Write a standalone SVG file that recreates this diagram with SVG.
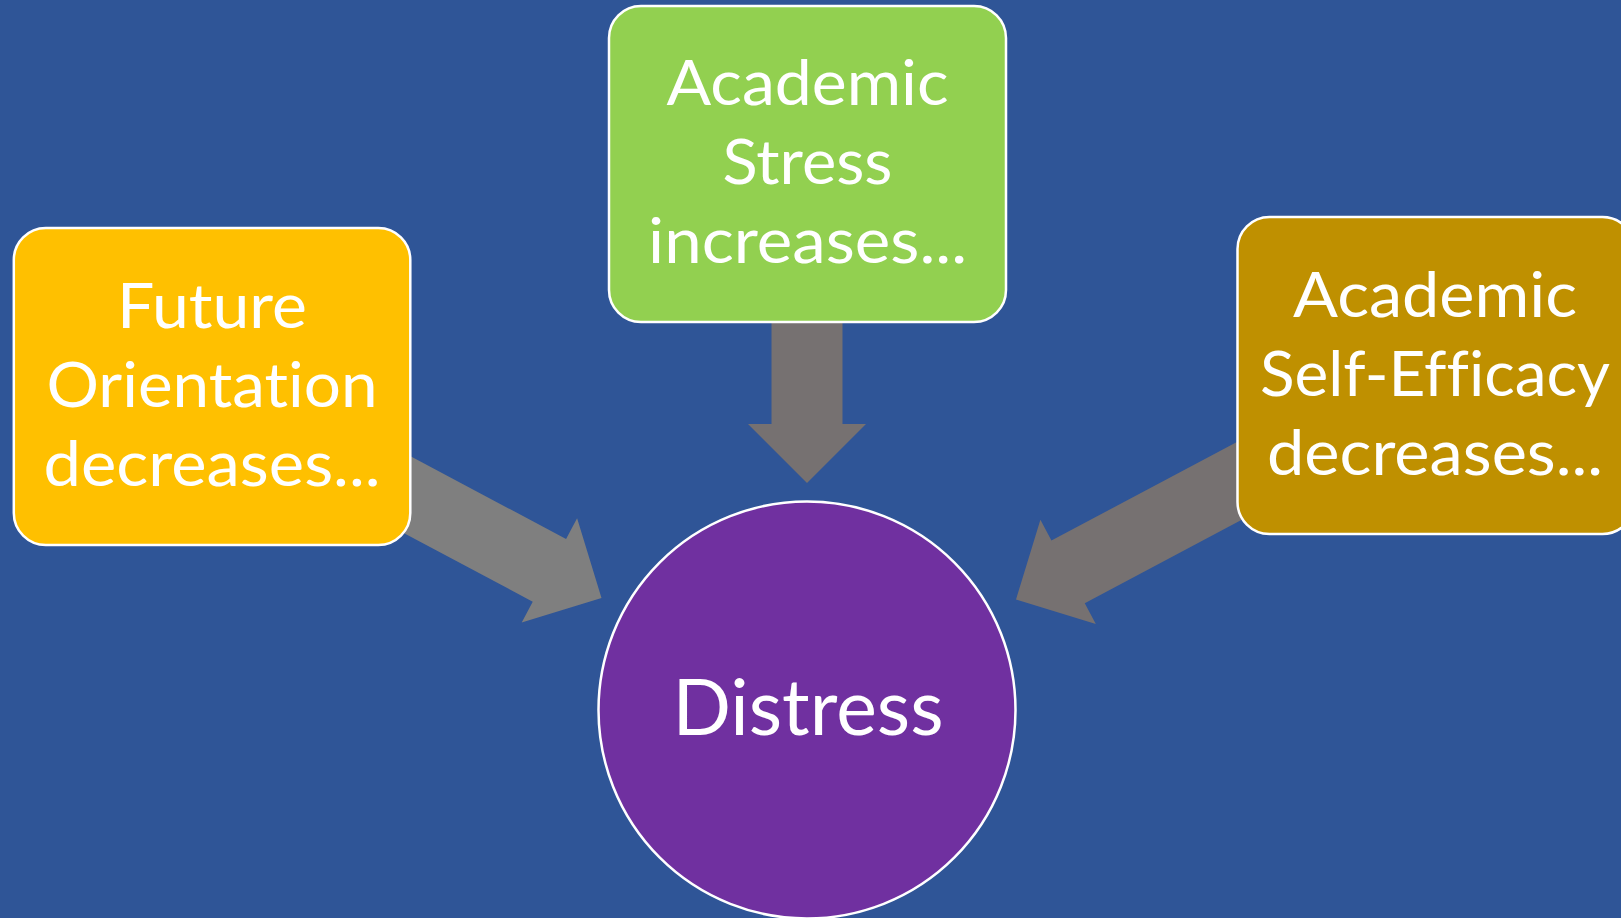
<svg xmlns="http://www.w3.org/2000/svg" width="1621" height="918" viewBox="0 0 1621 918">
<style>
.box{stroke:#FFFFFF;stroke-width:2.5}
.lbl{font-family:Lato,"Open Sans","Liberation Sans",sans-serif;font-size:61px;fill:#FFFFFF;text-anchor:middle;font-variant-ligatures:none;font-feature-settings:"liga" 0,"clig" 0,"dlig" 0}
.big{font-size:78px}
</style>
<defs>
<polygon id="arrowL" points="0,0 -59,-59 -59,-35.5 -250,-35.5 -250,35.5 -59,35.5 -59,59"/>
<polygon id="arrowD" points="0,0 -59,-59 -59,-35.5 -183,-35.5 -183,35.5 -59,35.5 -59,59"/>
<polygon id="arrowR" points="0,0 -59,-59 -59,-35.5 -300,-35.5 -300,35.5 -59,35.5 -59,59"/>
</defs>
<rect x="0" y="0" width="1621" height="918" fill="#2F5597"/>
<g id="connectors">
<use href="#arrowL" fill="#7F7F7F" transform="translate(601.5,598) rotate(28)"/>
<use href="#arrowD" fill="#767171" transform="translate(807,483) rotate(90)"/>
<use href="#arrowR" fill="#767171" transform="translate(1016,599.6) rotate(152)"/>
</g>
<g id="future">
<rect class="box" x="13.8" y="228" width="396.5" height="317" rx="32" ry="32" fill="#FFC000"/>
<text class="lbl" x="212" y="328" textLength="190" lengthAdjust="spacingAndGlyphs">Future</text>
<text class="lbl" x="212" y="407" textLength="331" lengthAdjust="spacingAndGlyphs">Orientation</text>
<text class="lbl" x="212" y="486" textLength="337" lengthAdjust="spacingAndGlyphs">decreases...</text>
</g>
<g id="stress">
<rect class="box" x="609" y="6" width="397" height="316" rx="32" ry="32" fill="#92D050"/>
<text class="lbl" x="807.5" y="105" textLength="282" lengthAdjust="spacingAndGlyphs">Academic</text>
<text class="lbl" x="807.5" y="184" textLength="170" lengthAdjust="spacingAndGlyphs">Stress</text>
<text class="lbl" x="807.5" y="263" textLength="319" lengthAdjust="spacingAndGlyphs">increases...</text>
</g>
<g id="efficacy">
<rect class="box" x="1237.5" y="217" width="397" height="317" rx="32" ry="32" fill="#BF9000"/>
<text class="lbl" x="1435" y="317" textLength="284" lengthAdjust="spacingAndGlyphs">Academic</text>
<text class="lbl" x="1435" y="396" textLength="350" lengthAdjust="spacingAndGlyphs">Self-Efficacy</text>
<text class="lbl" x="1435" y="475" textLength="336" lengthAdjust="spacingAndGlyphs">decreases...</text>
</g>
<g id="distress">
<circle class="box" cx="807" cy="710" r="208.5" fill="#7030A0"/>
<text class="lbl big" x="808" y="735" textLength="271" lengthAdjust="spacingAndGlyphs">Distress</text>
</g>
</svg>
